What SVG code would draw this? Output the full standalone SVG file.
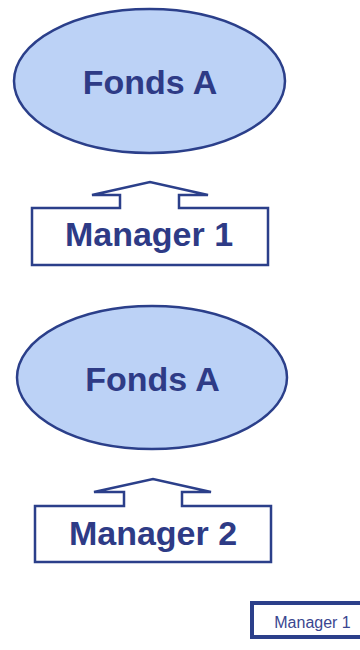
<svg xmlns="http://www.w3.org/2000/svg" width="360" height="650" viewBox="0 0 360 650">
<style>
.fund{fill:#bcd2f6;stroke:#2b3f8a;stroke-width:2.5}
.mgr{fill:#ffffff;stroke:#2b3f8a;stroke-width:2.5;stroke-linejoin:miter}
.big{font-family:"Liberation Sans",Arial,sans-serif;font-weight:bold;fill:#2e3b86;text-anchor:middle}
.small{font-family:"Liberation Sans",Arial,sans-serif;fill:#3a4690;text-anchor:middle}
</style>
<rect width="360" height="650" fill="#ffffff"/>
<g id="fonds1">
<ellipse class="fund" cx="149.5" cy="81" rx="135.5" ry="72"/>
<text class="big" x="150" y="94" font-size="34">Fonds A</text>
</g>
<g id="manager1">
<path class="mgr" d="M32,265 L32,208 L120,208 L120,195 L92,195 L150,182 L208,195 L179,195 L179,208 L268,208 L268,265 Z"/>
<text class="big" x="149" y="246" font-size="34">Manager 1</text>
</g>
<g id="fonds2">
<ellipse class="fund" cx="152" cy="377.5" rx="135" ry="71.5"/>
<text class="big" x="152.5" y="391" font-size="34">Fonds A</text>
</g>
<g id="manager2">
<path class="mgr" d="M35,562 L35,506 L124,506 L124,492 L94,492 L153,479 L211,492 L182,492 L182,506 L271,506 L271,562 Z"/>
<text class="big" x="153" y="545" font-size="34">Manager 2</text>
</g>
<g id="manager1small">
<rect x="252" y="603" width="120" height="34" fill="#ffffff" stroke="#2b3f8a" stroke-width="4"/>
<text class="small" x="312.5" y="628" font-size="16">Manager 1</text>
</g>
<g id="connectors"></g>
</svg>
